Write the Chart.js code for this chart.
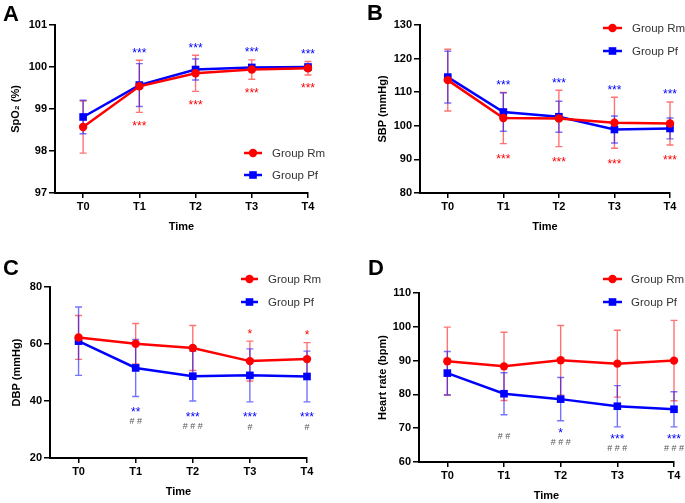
<!DOCTYPE html>
<html>
<head>
<meta charset="utf-8">
<script src="https://cdn.jsdelivr.net/npm/chart.js@4.4.1/dist/chart.umd.min.js"></script>
<style>
    body { margin: 0; background: #fff; }
    #wrap { position: relative; width: 685px; height: 503px; }
    canvas { position: absolute; }
</style>
</head>
<body>
<div id="wrap">
    <canvas id="cA" width="340" height="250" style="left:0;top:0"></canvas>
    <canvas id="cB" width="345" height="250" style="left:340px;top:0"></canvas>
    <canvas id="cC" width="340" height="253" style="left:0;top:250px"></canvas>
    <canvas id="cD" width="345" height="253" style="left:340px;top:250px"></canvas>
</div>
<script>
const timeLabels = ['T0', 'T1', 'T2', 'T3', 'T4'];

// SpO2 (%)
const spo2Rm = [98.57, 99.54, 99.85, 99.94, 99.97];
const spo2RmSd = [0.62, 0.62, 0.43, 0.23, 0.16];
const spo2Pf = [98.81, 99.57, 99.94, 99.99, 100.0];
const spo2PfSd = [0.40, 0.51, 0.25, 0.03, 0.03];
const spo2RmSig = ['', '***', '***', '***', '***'];
const spo2PfSig = ['', '***', '***', '***', '***'];

// SBP (mmHg)
const sbpRm = [113.6, 102.3, 102.2, 100.9, 100.7];
const sbpRmSd = [9.2, 7.6, 8.4, 7.6, 6.4];
const sbpPf = [114.5, 104.1, 102.7, 98.9, 99.2];
const sbpPfSd = [7.7, 5.7, 4.6, 4.0, 3.1];
const sbpRmSig = ['', '***', '***', '***', '***'];
const sbpPfSig = ['', '***', '***', '***', '***'];

// DBP (mmHg)
const dbpRm = [62.3, 60.1, 58.6, 54.0, 54.7];
const dbpRmSd = [7.7, 7.1, 7.9, 7.0, 5.8];
const dbpPf = [61.0, 51.6, 48.7, 49.0, 48.6];
const dbpPfSd = [12.0, 10.0, 8.7, 9.3, 8.9];
const dbpRmSig = ['', '', '', '*', '*'];
const dbpPfSig = ['', '**', '***', '***', '***'];
const dbpHash = ['', '##', '###', '#', '#'];

// Heart rate (bpm)
const hrRm = [89.8, 88.3, 90.1, 89.1, 90.0];
const hrRmSd = [10.1, 10.1, 10.3, 9.9, 11.9];
const hrPf = [86.3, 80.2, 78.6, 76.5, 75.6];
const hrPfSd = [6.4, 6.2, 6.4, 6.1, 5.2];
const hrPfSig = ['', '', '*', '***', '***'];
const hrHash = ['', '##', '###', '###', '###'];

const RED = '#ff0000';
const BLUE = '#0000ff';
const FONT = "Arial, 'Liberation Sans', sans-serif";

Chart.defaults.font.family = FONT;

const panels = [
    {
        id: 'cA', letter: 'A', letterPos: [3, 21], yTitle: 'SpO\u2082 (%)',
        yMin: 97, yMax: 101, yStep: 1,
        rm: spo2Rm, rmSd: spo2RmSd, pf: spo2Pf, pfSd: spo2PfSd,
        above: spo2PfSig, aboveColor: BLUE, below: spo2RmSig, belowColor: RED, hash: null,
        aboveGap: 10, belowGap: 11, hashGap: 0,
        pad: { left: 5, top: 25, right: 32, bottom: 16 }, yWidth: 50, xHeight: 41,
        legend: { x0: 244, x1: 262, tx: 272, y: 153, dy: 22 }
    },
    {
        id: 'cB', letter: 'B', letterPos: [27, 20], yTitle: 'SBP (mmHg)',
        yMin: 80, yMax: 130, yStep: 10,
        rm: sbpRm, rmSd: sbpRmSd, pf: sbpPf, pfSd: sbpPfSd,
        above: sbpPfSig, aboveColor: BLUE, below: sbpRmSig, belowColor: RED, hash: null,
        aboveGap: 10, belowGap: 13, hashGap: 0,
        pad: { left: 32, top: 25, right: 15, bottom: 16 }, yWidth: 48, xHeight: 41,
        legend: { x0: 263, x1: 282, tx: 292, y: 28, dy: 23 }
    },
    {
        id: 'cC', letter: 'C', letterPos: [3, 25], yTitle: 'DBP (mmHg)',
        yMin: 20, yMax: 80, yStep: 20,
        rm: dbpRm, rmSd: dbpRmSd, pf: dbpPf, pfSd: dbpPfSd,
        above: dbpRmSig, aboveColor: RED, below: dbpPfSig, belowColor: BLUE, hash: dbpHash,
        aboveGap: 10, belowGap: 13, hashGap: 25,
        pad: { left: 6, top: 37, right: 33, bottom: 4 }, yWidth: 44, xHeight: 41,
        legend: { x0: 241, x1: 258, tx: 268, y: 29, dy: 23 }
    },
    {
        id: 'cD', letter: 'D', letterPos: [28, 25], yTitle: 'Heart rate (bpm)',
        yMin: 60, yMax: 110, yStep: 10,
        rm: hrRm, rmSd: hrRmSd, pf: hrPf, pfSd: hrPfSd,
        above: null, aboveColor: RED, below: hrPfSig, belowColor: BLUE, hash: hrHash,
        aboveGap: 10, belowGap: 10, hashGap: 21,
        pad: { left: 32, top: 43, right: 11, bottom: 0 }, yWidth: 47, xHeight: 41,
        legend: { x0: 263, x1: 282, tx: 291, y: 29, dy: 23 }
    }
];

function toPoints(values) {
    return values.map((v, i) => ({ x: i, y: v }));
}

function drawCentered(ctx, text, x, cy) {
    const m = ctx.measureText(text);
    const base = cy + (m.actualBoundingBoxAscent - m.actualBoundingBoxDescent) / 2;
    ctx.fillText(text, x, base);
}

function drawMarker(ctx, style, x, y, color) {
    ctx.fillStyle = color;
    ctx.beginPath();
    if (style === 'circle') {
        ctx.arc(x, y, 4.2, 0, Math.PI * 2);
    } else {
        ctx.rect(x - 3.8, y - 3.8, 7.6, 7.6);
    }
    ctx.fill();
}

function makePanelPlugin(p) {
    const sets = [
        { mean: p.rm, sd: p.rmSd, color: 'rgba(255,0,0,0.55)' },
        { mean: p.pf, sd: p.pfSd, color: 'rgba(0,0,255,0.55)' }
    ];
    return {
        id: 'panelExtras',
        beforeDatasetsDraw(chart) {
            const { ctx, scales: { x, y } } = chart;
            ctx.save();
            ctx.lineWidth = 1.4;
            sets.forEach(set => {
                ctx.strokeStyle = set.color;
                set.mean.forEach((m, i) => {
                    const px = x.getPixelForValue(i);
                    const top = y.getPixelForValue(m + set.sd[i]);
                    const bot = y.getPixelForValue(m - set.sd[i]);
                    ctx.beginPath();
                    ctx.moveTo(px, top);
                    ctx.lineTo(px, bot);
                    ctx.moveTo(px - 3.5, top);
                    ctx.lineTo(px + 3.5, top);
                    ctx.moveTo(px - 3.5, bot);
                    ctx.lineTo(px + 3.5, bot);
                    ctx.stroke();
                });
            });
            ctx.restore();
        },
        afterDatasetsDraw(chart) {
            const { ctx, scales: { x, y } } = chart;
            ctx.save();
            ctx.textAlign = 'center';
            timeLabels.forEach((_, i) => {
                const px = x.getPixelForValue(i);
                const top = Math.min(
                    y.getPixelForValue(p.rm[i] + p.rmSd[i]),
                    y.getPixelForValue(p.pf[i] + p.pfSd[i]));
                const bot = Math.max(
                    y.getPixelForValue(p.rm[i] - p.rmSd[i]),
                    y.getPixelForValue(p.pf[i] - p.pfSd[i]));
                ctx.font = '12px ' + FONT;
                if (p.above && p.above[i]) {
                    ctx.fillStyle = p.aboveColor;
                    drawCentered(ctx, p.above[i], px, top - p.aboveGap);
                }
                if (p.below && p.below[i]) {
                    ctx.fillStyle = p.belowColor;
                    drawCentered(ctx, p.below[i], px, bot + p.belowGap);
                }
                if (p.hash && p.hash[i]) {
                    ctx.font = '9px ' + FONT;
                    ctx.fillStyle = '#555';
                    drawCentered(ctx, p.hash[i].split('').join(' '), px, bot + p.hashGap);
                }
            });
            ctx.restore();
        },
        afterDraw(chart) {
            const ctx = chart.ctx;
            const L = p.legend;
            ctx.save();
            // panel letter
            ctx.font = 'bold 22px ' + FONT;
            ctx.fillStyle = '#000';
            ctx.textBaseline = 'alphabetic';
            ctx.fillText(p.letter, p.letterPos[0], p.letterPos[1]);
            // legend
            const rows = [
                { label: 'Group Rm', color: RED, style: 'circle' },
                { label: 'Group Pf', color: BLUE, style: 'rect' }
            ];
            rows.forEach((r, k) => {
                const ly = L.y + k * L.dy;
                ctx.strokeStyle = r.color;
                ctx.lineWidth = 2.5;
                ctx.beginPath();
                ctx.moveTo(L.x0, ly);
                ctx.lineTo(L.x1, ly);
                ctx.stroke();
                drawMarker(ctx, r.style, (L.x0 + L.x1) / 2, ly, r.color);
                ctx.font = '11.5px ' + FONT;
                ctx.fillStyle = '#333';
                ctx.textBaseline = 'middle';
                ctx.fillText(r.label, L.tx, ly + 0.5);
            });
            ctx.restore();
        }
    };
}

const tickFont = { family: FONT, size: 11, weight: 'bold' };

panels.forEach(p => {
    new Chart(document.getElementById(p.id), {
        type: 'line',
        data: {
            datasets: [
                {
                    label: 'Group Rm',
                    data: toPoints(p.rm),
                    borderColor: RED,
                    backgroundColor: RED,
                    borderWidth: 2.5,
                    pointStyle: 'circle',
                    pointRadius: 4.2,
                    pointBorderWidth: 0,
                    tension: 0,
                    clip: false
                },
                {
                    label: 'Group Pf',
                    data: toPoints(p.pf),
                    borderColor: BLUE,
                    backgroundColor: BLUE,
                    borderWidth: 2.5,
                    pointStyle: 'rect',
                    pointRadius: 5.4,
                    pointBorderWidth: 0,
                    tension: 0,
                    clip: false
                }
            ]
        },
        options: {
            responsive: false,
            animation: false,
            layout: { padding: p.pad },
            plugins: {
                legend: { display: false },
                tooltip: { enabled: false }
            },
            scales: {
                x: {
                    type: 'linear',
                    min: -0.5,
                    max: 4,
                    afterBuildTicks: s => { s.ticks = timeLabels.map((_, i) => ({ value: i })); },
                    afterFit: s => { s.height = p.xHeight; },
                    ticks: {
                        callback: v => timeLabels[v] ?? '',
                        font: tickFont,
                        color: '#000',
                        padding: 2,
                        maxRotation: 0,
                        autoSkip: false
                    },
                    grid: { drawOnChartArea: false, drawTicks: true, tickLength: 5, color: '#000', lineWidth: 1.5 },
                    border: { display: true, color: '#000', width: 2 },
                    title: { display: true, text: 'Time', font: tickFont, color: '#000', padding: { top: 0, bottom: 0 } }
                },
                y: {
                    min: p.yMin,
                    max: p.yMax,
                    afterFit: s => { s.width = p.yWidth; },
                    ticks: { stepSize: p.yStep, font: tickFont, color: '#000', padding: 2 },
                    grid: { drawOnChartArea: false, drawTicks: true, tickLength: 6, color: '#000', lineWidth: 1.5 },
                    border: { display: true, color: '#000', width: 2 },
                    title: { display: true, text: p.yTitle, font: tickFont, color: '#000', padding: { top: 4, bottom: 4 } }
                }
            }
        },
        plugins: [makePanelPlugin(p)]
    });
});
</script>
</body>
</html>
